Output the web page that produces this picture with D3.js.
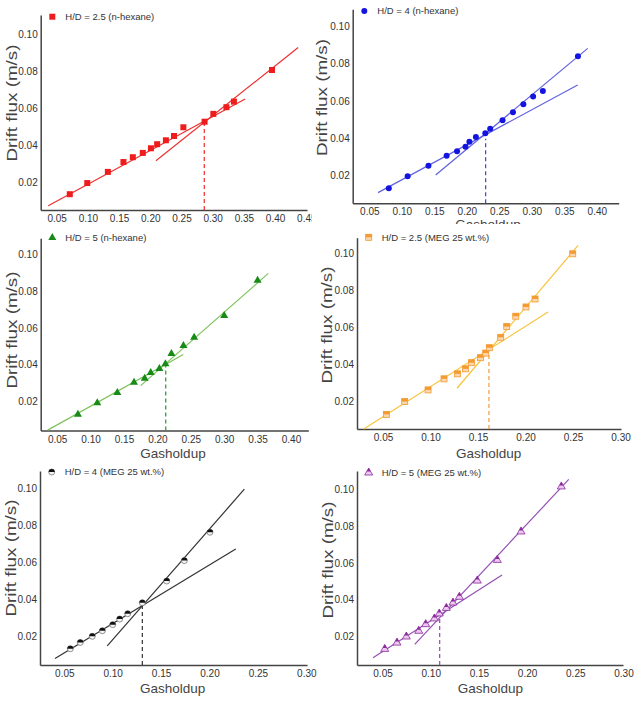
<!DOCTYPE html>
<html><head><meta charset="utf-8">
<script src="https://cdn.jsdelivr.net/npm/d3@7"></script>
<style>
body{margin:0;background:#fff}
svg{display:block;font-family:"Liberation Sans",Arial,sans-serif}
</style>
</head><body>
<svg id="c" width="637" height="705"></svg>
<script>
// ---------- tick labels ----------
const yTicks = [0.02, 0.04, 0.06, 0.08, 0.10];
const xTicks45 = [0.05, 0.10, 0.15, 0.20, 0.25, 0.30, 0.35, 0.40, 0.45];
const xTicks40 = [0.05, 0.10, 0.15, 0.20, 0.25, 0.30, 0.35, 0.40];
const xTicks30 = [0.05, 0.10, 0.15, 0.20, 0.25, 0.30];
const legendLabels = ["H/D = 2.5 (n-hexane)", "H/D = 4 (n-hexane)", "H/D = 5 (n-hexane)",
  "H/D = 2.5 (MEG 25 wt.%)", "H/D = 4 (MEG 25 wt.%)", "H/D = 5 (MEG 25 wt.%)"];
const xTitle = "Gasholdup";
const yTitle = "Drift flux (m/s)";

// ---------- series: gas holdup (x) and drift flux (y) ----------
const p1X = [0.071, 0.099, 0.132, 0.157, 0.172, 0.188, 0.201, 0.211, 0.225, 0.238, 0.253, 0.287, 0.301, 0.322, 0.334, 0.395];
const p1Y = [0.0138, 0.0198, 0.0258, 0.0311, 0.0337, 0.0360, 0.0385, 0.0407, 0.0428, 0.0451, 0.0498, 0.0528, 0.0570, 0.0606, 0.0636, 0.0806];
const p1Low = [[0.0365, 0.0076], [0.352, 0.0650]];
const p1High = [[0.209, 0.0318], [0.437, 0.0927]];
const p1Trans = [0.2865, 0.0528];

const p2X = [0.080, 0.109, 0.141, 0.169, 0.185, 0.198, 0.204, 0.214, 0.2285, 0.236, 0.255, 0.271, 0.287, 0.302, 0.317, 0.371];
const p2Y = [0.0128, 0.0193, 0.0250, 0.0304, 0.0328, 0.0353, 0.0380, 0.0405, 0.0425, 0.0450, 0.0495, 0.0538, 0.0581, 0.0623, 0.0653, 0.0840];
const p2Low = [[0.0634, 0.0105], [0.3706, 0.0685]];
const p2High = [[0.1521, 0.0200], [0.386, 0.0883]];
const p2Trans = [0.229, 0.0395];

const p3X = [0.081, 0.110, 0.140, 0.165, 0.181, 0.190, 0.203, 0.212, 0.221, 0.239, 0.255, 0.300, 0.350];
const p3Y = [0.0131, 0.0193, 0.0249, 0.0305, 0.0326, 0.0357, 0.0379, 0.0404, 0.0460, 0.0503, 0.0548, 0.0666, 0.0857];
const p3Low = [[0.0358, 0.0046], [0.2388, 0.0456]];
const p3High = [[0.175, 0.0287], [0.366, 0.0895]];
const p3Trans = [0.2125, 0.0399];

const p4X = [0.0535, 0.0728, 0.0974, 0.1142, 0.1283, 0.1367, 0.143, 0.1525, 0.1581, 0.1619, 0.1739, 0.1802, 0.1897, 0.2005, 0.210, 0.2497];
const p4Y = [0.0131, 0.0200, 0.0263, 0.0323, 0.0350, 0.0377, 0.0410, 0.0437, 0.0462, 0.0491, 0.0547, 0.0605, 0.0661, 0.0711, 0.0754, 0.0998];
const p4Low = [[0.0297, 0.0052], [0.2237, 0.0684]];
const p4High = [[0.1279, 0.0272], [0.2553, 0.1043]];
const p4Trans = [0.1615, 0.0471];

const p5X = [0.0562, 0.0665, 0.0789, 0.0893, 0.100, 0.1072, 0.1155, 0.1306, 0.1558, 0.174, 0.2005];
const p5Y = [0.0135, 0.0169, 0.0202, 0.0232, 0.0265, 0.0295, 0.0324, 0.0383, 0.0500, 0.0610, 0.0763];
const p5Low = [[0.0404, 0.0083], [0.2271, 0.0673]];
const p5High = [[0.0944, 0.0151], [0.236, 0.0995]];
const p5Trans = [0.1306, 0.0380];

const p6X = [0.0523, 0.065, 0.0747, 0.0876, 0.0948, 0.1038, 0.1089, 0.1162, 0.1231, 0.1297, 0.1483, 0.1691, 0.1937, 0.2355];
const p6Y = [0.0133, 0.0167, 0.0200, 0.0231, 0.0267, 0.0298, 0.0325, 0.0355, 0.0384, 0.0415, 0.0503, 0.0615, 0.0769, 0.1013];
const p6Low = [[0.0401, 0.0086], [0.174, 0.0534]];
const p6High = [[0.0834, 0.0158], [0.2432, 0.1052]];
const p6Trans = [0.1093, 0.0308];

// ---------- panel layout ----------
const panels = [
  {x: p1X, y: p1Y, low: p1Low, high: p1High, trans: p1Trans, label: legendLabels[0], xt: xTicks45,
   box: [40.7, 307, 15, 210], xd: [0.0244, 0.4511], yd: [0.0053, 0.1102],
   shape: "square", half: false, c: "#ee1c1c", lc: "#ee3030", dc: "#ee2a2a",
   leg: [52.3, 16.7], yt: [11.7, 103], xtitle: null},
  {x: p2X, y: p2Y, low: p2Low, high: p2High, trans: p2Trans, label: legendLabels[1], xt: xTicks40,
   box: [352.7, 618.7, 9.3, 203.3], xd: [0.02446, 0.43369], yd: [0.00473, 0.10939],
   shape: "circle", half: false, c: "#1414e0", lc: "#6262e0", dc: "#4040d8",
   leg: [364.3, 11], yt: [322, 97.5], xtitle: [488, 228.5]},
  {x: p3X, y: p3Y, low: p3Low, high: p3High, trans: p3Trans, label: legendLabels[2], xt: xTicks40,
   box: [40.7, 308.3, 238.3, 430.5], xd: [0.0253, 0.4259], yd: [0.0044, 0.1085],
   shape: "triangle", half: false, c: "#178a17", lc: "#7fc25c", dc: "#1f9a1f",
   leg: [52.3, 237.7], yt: [11.7, 330], xtitle: [173, 458]},
  {x: p4X, y: p4Y, low: p4Low, high: p4High, trans: p4Trans, label: legendLabels[3], xt: xTicks30,
   box: [357, 621, 237.7, 429], xd: [0.0226, 0.3005], yd: [0.0052, 0.1085],
   shape: "square", half: true, c: "#f39a30", c2: "#fcd6ae", lc: "#f8c23c", dc: "#f39a3c",
   leg: [368.7, 237.3], yt: [327, 325], xtitle: [488.7, 458]},
  {x: p5X, y: p5Y, low: p5Low, high: p5High, trans: p5Trans, label: legendLabels[4], xt: xTicks30,
   box: [40, 307, 471, 665], xd: [0.0249, 0.3007], yd: [0.00474, 0.1093],
   shape: "circle", half: true, c: "#111", c2: "#f4f4f4", lc: "#333", dc: "#333",
   leg: [51.7, 472], yt: [10.7, 558], xtitle: [172.7, 693]},
  {x: p6X, y: p6Y, low: p6Low, high: p6High, trans: p6Trans, label: legendLabels[5], xt: xTicks30,
   box: [357, 623, 471, 665], xd: [0.0235, 0.2995], yd: [0.00467, 0.10975],
   shape: "triangle", half: true, c: "#8a2a9a", c2: "#ecc8f0", lc: "#9350b5", dc: "#a040c0",
   leg: [368.7, 472.7], yt: [327.7, 560], xtitle: [490.3, 693]}
];

const svg = d3.select("#c");
const fmt = d3.format(".2f");

function marker(g, shape, half, c, c2, cx, cy) {
  const m = g.append("g").attr("transform", `translate(${cx},${cy})`);
  if (shape === "square") {
    const s = 6;
    m.append("rect").attr("x", -s/2).attr("y", -s/2).attr("width", s).attr("height", s)
      .attr("fill", half ? c2 : c).attr("stroke", half ? c : "none").attr("stroke-width", 0.8);
    if (half) m.append("rect").attr("x", -s/2).attr("y", -s/2).attr("width", s).attr("height", s/2).attr("fill", c);
  } else if (shape === "circle") {
    const r = 3;
    m.append("circle").attr("r", r).attr("fill", half ? c2 : c)
      .attr("stroke", half ? "#666" : "none").attr("stroke-width", 0.7);
    if (half) m.append("path").attr("d", `M${-r},0A${r},${r} 0 0 1 ${r},0Z`).attr("fill", c);
  } else {
    const h = 7, w = 8;
    m.append("path").attr("d", `M0,${-2*h/3}L${w/2},${h/3}L${-w/2},${h/3}Z`)
      .attr("fill", half ? c2 : c).attr("stroke", half ? c : "none").attr("stroke-width", 0.8);
    if (half) m.append("path").attr("d", `M0,${-2*h/3}L${w/4},${-h/6}L${-w/4},${-h/6}Z`).attr("fill", c);
  }
}

panels.forEach((p, i) => {
  const [L, R, T, B] = p.box;
  const x = d3.scaleLinear().domain(p.xd).range([L, R]);
  const y = d3.scaleLinear().domain(p.yd).range([B, T]);
  const g = svg.append("g");

  // x-axis title (panel 2's is partly hidden under the panel below)
  if (p.xtitle) {
    g.append("text").attr("x", p.xtitle[0]).attr("y", p.xtitle[1]).attr("text-anchor", "middle")
      .attr("font-size", 13.5).attr("fill", "#444").text(xTitle);
  }
  if (i === 1) {
    g.append("rect").attr("x", 330).attr("y", 224).attr("width", 307).attr("height", 8).attr("fill", "#fff");
  }

  // axes
  const ya = g.append("g").attr("transform", `translate(${L},0)`)
    .call(d3.axisLeft(y).tickValues(yTicks).tickFormat(fmt).tickSize(0).tickPadding(3));
  const xa = g.append("g").attr("transform", `translate(0,${B})`)
    .call(d3.axisBottom(x).tickValues(p.xt).tickFormat(fmt).tickSize(0).tickPadding(5));
  [ya, xa].forEach(a => {
    a.select(".domain").attr("stroke", "#444").attr("stroke-width", 1.5);
    a.selectAll("text").attr("font-size", 10).attr("fill", "#333").attr("font-family", "Liberation Sans, Arial, sans-serif");
  });
  if (i === 0) {
    g.append("rect").attr("x", 312).attr("y", B + 3).attr("width", 12).attr("height", 14).attr("fill", "#fff");
  }

  // y-axis title
  g.append("text").attr("transform", `translate(${p.yt[0]},${p.yt[1]}) rotate(-90)`)
    .attr("text-anchor", "middle").attr("dy", "0.35em").attr("font-size", 14).attr("fill", "#444")
    .attr("textLength", 117).attr("lengthAdjust", "spacingAndGlyphs").text(yTitle);

  // fit lines
  const line = d3.line().x(d => x(d[0])).y(d => y(d[1]));
  [p.low, p.high].forEach(seg => {
    g.append("path").attr("d", line(seg)).attr("fill", "none").attr("stroke", p.lc).attr("stroke-width", 1.2);
  });
  // transition marker
  g.append("line").attr("x1", x(p.trans[0])).attr("x2", x(p.trans[0]))
    .attr("y1", y(p.yd[0])).attr("y2", y(p.trans[1]))
    .attr("stroke", p.dc).attr("stroke-width", 1.2).attr("stroke-dasharray", "4,3");

  // points
  p.x.forEach((xv, k) => marker(g, p.shape, p.half, p.c, p.c2, x(xv), y(p.y[k])));

  // legend
  marker(g, p.shape, p.half, p.c, p.c2, p.leg[0], p.leg[1]);
  g.append("text").attr("x", p.leg[0] + 13).attr("y", p.leg[1]).attr("dy", "0.35em")
    .attr("font-size", 9.5).attr("fill", "#333").text(p.label);
});
</script>
</body></html>
